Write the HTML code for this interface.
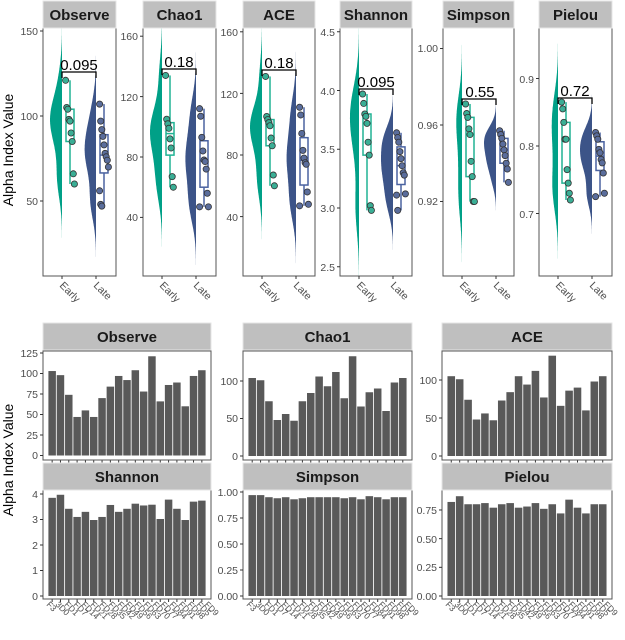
<!DOCTYPE html>
<html><head><meta charset="utf-8"><style>
html,body{margin:0;padding:0;background:#fff}
svg{display:block;font-family:"Liberation Sans",sans-serif}
.st{fill:#bfbfbf;stroke:#e6e6e6;stroke-width:1}
.sl{font-weight:bold;font-size:15px;fill:#1a1a1a;text-anchor:middle}
.tk{font-size:10.5px;fill:#4d4d4d;text-anchor:end}
.xl{font-size:10.5px;fill:#4d4d4d}
.xs{font-size:8.5px;fill:#4d4d4d}
.pv{font-size:15px;fill:#000;text-anchor:middle}
.fr{fill:none;stroke:#555;stroke-width:1}
</style></head><body>
<svg id="s" width="625" height="640" viewBox="0 0 625 640" xmlns="http://www.w3.org/2000/svg">
<g id="shapes"></g>
<text transform="translate(13,150) rotate(-90)" font-size="14" text-anchor="middle" fill="#000">Alpha Index Value</text>
<text transform="translate(13,460) rotate(-90)" font-size="14" text-anchor="middle" fill="#000">Alpha Index Value</text>
<rect class="st" x="43" y="1" width="73" height="27"/><text class="sl" x="79.5" y="20">Observe</text>
<rect class="st" x="143" y="1" width="73" height="27"/><text class="sl" x="179.5" y="20">Chao1</text>
<rect class="st" x="243" y="1" width="72" height="27"/><text class="sl" x="279" y="20">ACE</text>
<rect class="st" x="340" y="1" width="72" height="27"/><text class="sl" x="376" y="20">Shannon</text>
<rect class="st" x="443" y="1" width="71" height="27"/><text class="sl" x="478.5" y="20">Simpson</text>
<rect class="st" x="539" y="1" width="73" height="27"/><text class="sl" x="575.5" y="20">Pielou</text>
<g class="tk">
<text x="38" y="35">150</text><text x="38" y="120">100</text><text x="38" y="205">50</text>
<text x="138" y="40">160</text><text x="138" y="101">120</text><text x="138" y="161">80</text><text x="138" y="221">40</text>
<text x="238" y="36">160</text><text x="238" y="98">120</text><text x="238" y="159">80</text><text x="238" y="221">40</text>
<text x="335" y="36">4.5</text><text x="335" y="95">4.0</text><text x="335" y="153">3.5</text><text x="335" y="212">3.0</text><text x="335" y="271">2.5</text>
<text x="438" y="52">1.00</text><text x="438" y="129">0.96</text><text x="438" y="205">0.92</text>
<text x="534" y="83">0.9</text><text x="534" y="150">0.8</text><text x="534" y="218">0.7</text>
</g>
<g class="xl">
<text transform="translate(59,286) rotate(45)">Early</text><text transform="translate(93,286) rotate(45)">Late</text>
<text transform="translate(159,286) rotate(45)">Early</text><text transform="translate(193,286) rotate(45)">Late</text>
<text transform="translate(259,286) rotate(45)">Early</text><text transform="translate(293,286) rotate(45)">Late</text>
<text transform="translate(356,286) rotate(45)">Early</text><text transform="translate(390,286) rotate(45)">Late</text>
<text transform="translate(459,286) rotate(45)">Early</text><text transform="translate(493,286) rotate(45)">Late</text>
<text transform="translate(555,286) rotate(45)">Early</text><text transform="translate(589,286) rotate(45)">Late</text>
</g>
<g class="pv">
<text x="79" y="70">0.095</text><text x="179" y="67">0.18</text><text x="279" y="68">0.18</text>
<text x="376" y="87">0.095</text><text x="480" y="97">0.55</text><text x="575" y="96">0.72</text>
</g>
<rect class="st" x="43" y="323" width="168" height="27"/><text class="sl" x="127" y="342">Observe</text>
<rect class="st" x="243" y="323" width="169" height="27"/><text class="sl" x="327.5" y="342">Chao1</text>
<rect class="st" x="442" y="323" width="170" height="27"/><text class="sl" x="527" y="342">ACE</text>
<rect class="st" x="43" y="463" width="168" height="27"/><text class="sl" x="127" y="482">Shannon</text>
<rect class="st" x="243" y="463" width="169" height="27"/><text class="sl" x="327.5" y="482">Simpson</text>
<rect class="st" x="442" y="463" width="170" height="27"/><text class="sl" x="527" y="482">Pielou</text>
<g class="tk">
<text x="38" y="459">0</text><text x="38" y="439">25</text><text x="38" y="418">50</text><text x="38" y="398">75</text><text x="38" y="377">100</text><text x="38" y="357">125</text>
<text x="238" y="460">0</text><text x="238" y="422">50</text><text x="238" y="385">100</text>
<text x="437" y="460">0</text><text x="437" y="422">50</text><text x="437" y="384">100</text>
<text x="38" y="600">0</text><text x="38" y="574">1</text><text x="38" y="549">2</text><text x="38" y="523">3</text><text x="38" y="498">4</text>
<text x="238" y="600">0.00</text><text x="238" y="574">0.25</text><text x="238" y="548">0.50</text><text x="238" y="522">0.75</text><text x="238" y="496">1.00</text>
<text x="437" y="600">0.00</text><text x="437" y="571">0.25</text><text x="437" y="543">0.50</text><text x="437" y="514">0.75</text>
</g>
<g class="xs">
<g>
<text transform="translate(46,605) rotate(45)">F3</text><text transform="translate(55,605) rotate(45)">3D0</text><text transform="translate(64,605) rotate(45)">FD1</text><text transform="translate(73,605) rotate(45)">FD7</text><text transform="translate(81,605) rotate(45)">FD14</text><text transform="translate(90,605) rotate(45)">FD21</text><text transform="translate(99,605) rotate(45)">FD28</text><text transform="translate(108,605) rotate(45)">FD35</text><text transform="translate(117,605) rotate(45)">FD42</text><text transform="translate(125,605) rotate(45)">FD49</text><text transform="translate(134,605) rotate(45)">FD56</text><text transform="translate(143,605) rotate(45)">FD63</text><text transform="translate(152,605) rotate(45)">FD70</text><text transform="translate(160,605) rotate(45)">FD77</text><text transform="translate(169,605) rotate(45)">FD84</text><text transform="translate(178,605) rotate(45)">FD91</text><text transform="translate(187,605) rotate(45)">FD98</text><text transform="translate(196,605) rotate(45)">FD5</text><text transform="translate(204,605) rotate(45)">FD9</text>
</g>
<g transform="translate(200,0)">
<text transform="translate(46,605) rotate(45)">F3</text><text transform="translate(55,605) rotate(45)">3D0</text><text transform="translate(64,605) rotate(45)">FD1</text><text transform="translate(73,605) rotate(45)">FD7</text><text transform="translate(81,605) rotate(45)">FD14</text><text transform="translate(90,605) rotate(45)">FD21</text><text transform="translate(99,605) rotate(45)">FD28</text><text transform="translate(108,605) rotate(45)">FD35</text><text transform="translate(117,605) rotate(45)">FD42</text><text transform="translate(125,605) rotate(45)">FD49</text><text transform="translate(134,605) rotate(45)">FD56</text><text transform="translate(143,605) rotate(45)">FD63</text><text transform="translate(152,605) rotate(45)">FD70</text><text transform="translate(160,605) rotate(45)">FD77</text><text transform="translate(169,605) rotate(45)">FD84</text><text transform="translate(178,605) rotate(45)">FD91</text><text transform="translate(187,605) rotate(45)">FD98</text><text transform="translate(196,605) rotate(45)">FD5</text><text transform="translate(204,605) rotate(45)">FD9</text>
</g>
<g transform="translate(399,0)">
<text transform="translate(46,605) rotate(45)">F3</text><text transform="translate(55,605) rotate(45)">3D0</text><text transform="translate(64,605) rotate(45)">FD1</text><text transform="translate(73,605) rotate(45)">FD7</text><text transform="translate(81,605) rotate(45)">FD14</text><text transform="translate(90,605) rotate(45)">FD21</text><text transform="translate(99,605) rotate(45)">FD28</text><text transform="translate(108,605) rotate(45)">FD35</text><text transform="translate(117,605) rotate(45)">FD42</text><text transform="translate(125,605) rotate(45)">FD49</text><text transform="translate(134,605) rotate(45)">FD56</text><text transform="translate(143,605) rotate(45)">FD63</text><text transform="translate(152,605) rotate(45)">FD70</text><text transform="translate(160,605) rotate(45)">FD77</text><text transform="translate(169,605) rotate(45)">FD84</text><text transform="translate(178,605) rotate(45)">FD91</text><text transform="translate(187,605) rotate(45)">FD98</text><text transform="translate(196,605) rotate(45)">FD5</text><text transform="translate(204,605) rotate(45)">FD9</text>
</g>
</g>
</svg>
<script>
(function(){
var NS="http://www.w3.org/2000/svg",g=document.getElementById("shapes");
function el(t,a){var e=document.createElementNS(NS,t);for(var k in a)e.setAttribute(k,a[k]);g.appendChild(e);return e;}
var G="#00A087",B="#3C5488";
var top=[
 {x:43,w:73,f:function(v){return 116-(v-100)*1.7},ticks:[150,100,50],e:[121,105,104,98,97,90,85,66,60],l:[107,97,92,88,83,78,76,74,70,56,48,47],by:72},
 {x:143,w:73,f:function(v){return 157-(v-80)*1.51},ticks:[160,120,80,40],e:[134,105,102,99,92,86,67,60],l:[112,107,93,84,78,77,72,56,47,47],by:69},
 {x:243,w:72,f:function(v){return 155-(v-80)*1.54},ticks:[160,120,80,40],e:[131,105,103,101,99,91,86,67,60],l:[111,106,94,83,78,75,74,56,48,47],by:70},
 {x:340,w:72,f:function(v){return 208-(v-3)*117.5},ticks:[4.5,4,3.5,3,2.5],e:[3.97,3.89,3.80,3.78,3.72,3.56,3.45,3.02,2.98],l:[3.64,3.60,3.56,3.48,3.42,3.36,3.30,3.28,3.12,3.11,2.98],by:89},
 {x:443,w:71,f:function(v){return 125-(v-0.96)*1912},ticks:[1,0.96,0.92],e:[0.971,0.966,0.964,0.958,0.955,0.941,0.933,0.920,0.920],l:[0.957,0.955,0.953,0.950,0.947,0.944,0.940,0.937,0.930],by:99},
 {x:539,w:73,f:function(v){return 146-(v-0.8)*675},ticks:[0.9,0.8,0.7],e:[0.865,0.855,0.835,0.81,0.81,0.765,0.745,0.73,0.72],l:[0.82,0.815,0.81,0.795,0.79,0.78,0.775,0.76,0.73,0.725],by:98}
];
function q(a,p){var s=a.slice().sort(function(x,y){return x-y});var i=(s.length-1)*p,lo=Math.floor(i),hi=Math.ceil(i);return s[lo]+(s[hi]-s[lo])*(i-lo);}
top.forEach(function(P){
 el("rect",{x:P.x,y:28,width:P.w,height:248,fill:"#fff"});
 var xs=[P.x+19,P.x+53];
 var sets=[P.e.map(P.f),P.l.map(P.f)],cols=[G,B];
 var dens=[],mx=0;
 sets.forEach(function(S,k){
  var n=S.length,m=S.reduce(function(a,b){return a+b},0)/n;
  var sd=Math.sqrt(S.reduce(function(a,b){return a+(b-m)*(b-m)},0)/(n-1));
  var bw=0.9*sd*Math.pow(n,-0.2);
  var y0=Math.min.apply(null,S)-3*bw,y1=Math.max.apply(null,S)+3*bw,pts=[];
  for(var y=y0;y<=y1;y+=1){var d=0;S.forEach(function(s){d+=Math.exp(-0.5*Math.pow((y-s)/bw,2))});d/=n*bw;pts.push([y,d]);if(d>mx)mx=d;}
  dens.push(pts);
 });
 dens.forEach(function(pts,k){
  var sc=12/mx,d="M"+xs[k]+","+pts[0][0];
  pts.forEach(function(p){d+="L"+(xs[k]-p[1]*sc).toFixed(1)+","+p[0].toFixed(1)});
  d+="L"+xs[k]+","+pts[pts.length-1][0]+"Z";
  el("path",{d:d,fill:cols[k]});
 });
 sets.forEach(function(S,k){
  var raw=k?P.l:P.e,cx=xs[k]+8,c=k?"#4a62a0":"#20b294";
  var q1=P.f(q(raw,0.25)),q3=P.f(q(raw,0.75)),md=P.f(q(raw,0.5));
  el("line",{x1:cx,x2:cx,y1:Math.min.apply(null,S),y2:Math.max.apply(null,S),stroke:c,"stroke-width":1.5});
  el("rect",{x:cx-4,y:q3,width:8,height:q1-q3,fill:"#fff",stroke:c,"stroke-width":1.5});
  el("line",{x1:cx-4,x2:cx+4,y1:md,y2:md,stroke:c,"stroke-width":1.5});
  S.forEach(function(y,i){var jx=cx+((i*37)%9-4)*1.1;
   el("circle",{cx:jx,cy:y,r:3.1,fill:k?"#5a6d9c":"#3aae95",stroke:"#333","stroke-width":0.8});});
 });
 el("path",{d:"M"+xs[0]+","+(P.by+6)+"V"+P.by+"H"+xs[1]+"V"+(P.by+6),fill:"none",stroke:"#000","stroke-width":1.3});
 el("rect",{x:P.x,y:28,width:P.w,height:248,class:"fr"});
 P.ticks.forEach(function(t){var y=P.f(t);el("line",{x1:P.x-3,x2:P.x,y1:y,y2:y,stroke:"#333"});});
 xs.forEach(function(x){el("line",{x1:x,x2:x,y1:276,y2:279,stroke:"#333"})});
});
var chao=[104,101,73,48,56,47,73,84,106,93,112,77,133,66,85,90,60,98,104];
var bot=[
 {x:43,w:168,y:351,h:109,z:455.5,s:0.82,v:[103,98,74,47,55,47,70,84,97,92,104,78,121,66,86,89,60,97,104],t:[0,25,50,75,100,125]},
 {x:243,w:169,y:351,h:109,z:456,s:0.75,v:chao,t:[0,50,100]},
 {x:442,w:170,y:351,h:109,z:456,s:0.76,v:[105,101,74,48,56,47,73,84,105,94,112,77,132,66,86,90,60,98,105],t:[0,50,100]},
 {x:43,w:168,y:490,h:109,z:596,s:25.5,v:[3.85,3.97,3.42,3.1,3.3,2.98,3.1,3.57,3.3,3.42,3.62,3.55,3.58,3.02,3.78,3.42,2.98,3.7,3.74],t:[0,1,2,3,4]},
 {x:243,w:169,y:490,h:109,z:596,s:104,v:[0.97,0.97,0.95,0.94,0.95,0.93,0.94,0.95,0.95,0.95,0.95,0.94,0.95,0.93,0.96,0.95,0.93,0.95,0.95],t:[0,0.25,0.5,0.75,1]},
 {x:442,w:170,y:490,h:109,z:596,s:114.7,v:[0.82,0.87,0.8,0.8,0.81,0.77,0.8,0.81,0.77,0.78,0.81,0.76,0.8,0.72,0.84,0.77,0.72,0.8,0.8],t:[0,0.25,0.5,0.75]}
];
bot.forEach(function(P){
 el("rect",{x:P.x,y:P.y,width:P.w,height:P.h,fill:"#fff"});
 var u=P.w/(19+1.2),bw=u*0.9;
 P.v.forEach(function(v,i){var cx=P.x+u*(0.6+i+0.5),h=v*P.s;
  el("rect",{x:cx-bw/2,y:P.z-h,width:bw,height:h,fill:"#595959"});
  el("line",{x1:cx,x2:cx,y1:P.y+P.h,y2:P.y+P.h+3,stroke:"#333"});});
 el("rect",{x:P.x,y:P.y,width:P.w,height:P.h,class:"fr"});
 P.t.forEach(function(t){var y=P.z-t*P.s;el("line",{x1:P.x-3,x2:P.x,y1:y,y2:y,stroke:"#333"});});
});
})();
</script>
</body></html>
